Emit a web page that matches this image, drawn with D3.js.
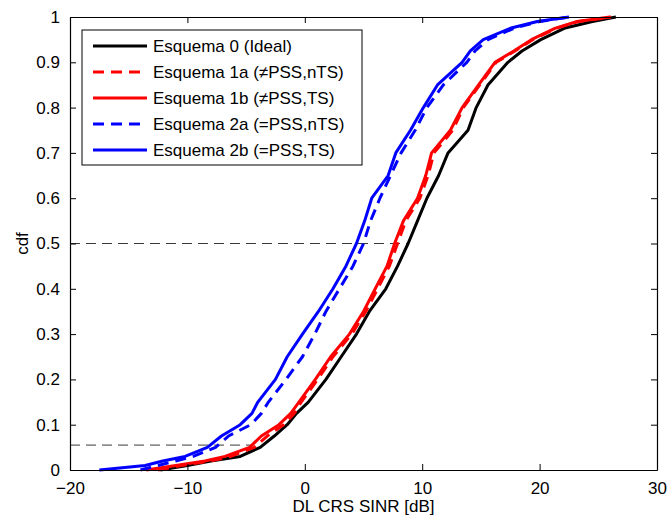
<!DOCTYPE html>
<html>
<head>
<meta charset="utf-8">
<script src="https://cdn.jsdelivr.net/npm/d3@7"></script>
<style>
body { margin: 0; background: #fff; }
text { font-family: "Liberation Sans", Arial, sans-serif; }
</style>
</head>
<body>
<svg width="668" height="517"></svg>
<script>
// cdf levels shared by every curve, x values at each level
var cdfLevels = [0, 0.01, 0.02, 0.03, 0.05, 0.075, 0.1, 0.125, 0.15, 0.2, 0.25, 0.3, 0.35, 0.4, 0.45,
  0.5, 0.55, 0.6, 0.65, 0.7, 0.75, 0.8, 0.85, 0.9, 0.925, 0.95, 0.975, 0.99, 1];

var sinrE0  = [-12.3, -10.0, -8.0, -5.5, -3.8, -2.6, -1.5, -0.7, 0.3, 1.8, 3.1, 4.4, 5.5, 6.9, 7.9,
  8.8, 9.6, 10.4, 11.4, 12.2, 13.9, 14.6, 15.6, 17.3, 18.5, 20.1, 22.1, 24.5, 26.5];
var sinrE1a = [-12.5, -10.5, -8.0, -6.3, -4.3, -3.2, -1.8, -0.9, -0.3, 1.1, 2.4, 4.0, 5.2, 6.2, 7.2,
  7.9, 8.6, 9.8, 10.5, 11.0, 12.6, 13.5, 14.9, 16.3, 17.9, 19.4, 21.4, 23.3, 26.1];
var sinrE1b = [-13.5, -11.0, -8.5, -6.8, -4.7, -3.7, -2.2, -1.2, -0.5, 0.9, 2.2, 3.8, 5.0, 6.0, 7.0,
  7.65, 8.4, 9.6, 10.3, 10.8, 12.4, 13.4, 14.8, 16.2, 17.8, 19.3, 21.3, 23.2, 26.0];
var sinrE2a = [-14.0, -12.5, -11.0, -9.5, -7.6, -6.5, -4.6, -3.7, -3.1, -1.6, -0.2, 0.85, 1.8, 2.95, 4.1,
  5.0, 5.6, 6.4, 7.3, 8.2, 9.4, 10.4, 11.8, 13.8, 14.5, 15.6, 17.8, 20.0, 22.5];
var sinrE2b = [-17.5, -13.6, -12.1, -10.2, -8.3, -7.1, -5.5, -4.5, -4.0, -2.5, -1.5, -0.2, 1.16, 2.4, 3.5,
  4.4, 5.1, 5.7, 7.1, 7.75, 9.0, 10.1, 11.3, 13.4, 14.1, 15.2, 17.5, 19.8, 22.5];

var seriesNames = ["Esquema 0 (Ideal)", "Esquema 1a (\u2260PSS,nTS)", "Esquema 1b (\u2260PSS,TS)",
  "Esquema 2a (=PSS,nTS)", "Esquema 2b (=PSS,TS)"];
var seriesValues = [sinrE0, sinrE1a, sinrE1b, sinrE2a, sinrE2b];
var seriesColors = ["#000000", "#ff0000", "#ff0000", "#0000ff", "#0000ff"];
var seriesDashed = [false, true, false, true, false];

// horizontal dashed guide lines: cdf level and where they stop
var guideCdf = [0.5, 0.055];
var guideEnd = [8.7, -4.5];

var xTicks = [-20, -10, 0, 10, 20, 30];
var yTicks = [0, 0.1, 0.2, 0.3, 0.4, 0.5, 0.6, 0.7, 0.8, 0.9, 1];

var svg = d3.select("svg");
// plot box in pixels (note: "top" is reserved on window, so use m*)
var mLeft = 70, mRight = 657, mTop = 17, mBottom = 470;

var x = d3.scaleLinear().domain([-20, 30]).range([mLeft, mRight]);
var y = d3.scaleLinear().domain([0, 1]).range([mBottom, mTop]);

// guide lines
svg.append("g").selectAll("line")
  .data(guideCdf)
  .enter().append("line")
  .attr("x1", x(-20))
  .attr("x2", function (d, i) { return x(guideEnd[i]); })
  .attr("y1", function (d) { return y(d); })
  .attr("y2", function (d) { return y(d); })
  .attr("stroke", "#222")
  .attr("stroke-width", 0.9)
  .attr("stroke-dasharray", "10,6");

// curves
var line = d3.line()
  .x(function (d) { return x(d[0]); })
  .y(function (d) { return y(d[1]); });

svg.append("g").selectAll("path")
  .data(seriesValues)
  .enter().append("path")
  .attr("d", function (vals) {
    return line(vals.map(function (v, i) { return [v, cdfLevels[i]]; }));
  })
  .attr("fill", "none")
  .attr("stroke", function (d, i) { return seriesColors[i]; })
  .attr("stroke-width", 3)
  .attr("stroke-linejoin", "round")
  .attr("stroke-dasharray", function (d, i) { return seriesDashed[i] ? "11,7" : null; });

// axes, MATLAB style box with inward ticks
var axisG = svg.append("g");
axisG.append("g")
  .attr("transform", "translate(0," + mBottom + ")")
  .call(d3.axisBottom(x).tickValues(xTicks).tickSizeInner(-6).tickSizeOuter(0).tickPadding(12)
    .tickFormat(function (d) { return d < 0 ? "\u2212" + Math.abs(d) : d; }));
axisG.append("g")
  .attr("transform", "translate(0," + mTop + ")")
  .call(d3.axisTop(x).tickValues(xTicks).tickSizeInner(-6).tickSizeOuter(0).tickFormat(""));
axisG.append("g")
  .attr("transform", "translate(" + mLeft + ",0)")
  .call(d3.axisLeft(y).tickValues(yTicks).tickSizeInner(-6).tickSizeOuter(0).tickPadding(10)
    .tickFormat(function (d) { return d === 0 || d === 1 ? d : d.toFixed(1); }));
axisG.append("g")
  .attr("transform", "translate(" + mRight + ",0)")
  .call(d3.axisRight(y).tickValues(yTicks).tickSizeInner(-6).tickSizeOuter(0).tickFormat(""));

axisG.selectAll(".domain").attr("stroke", "#000").attr("stroke-width", 1.2);
axisG.selectAll(".tick line").attr("stroke", "#000");
axisG.selectAll(".tick text").attr("font-size", 17).attr("fill", "#000")
  .style("font-family", "'Liberation Sans', Arial, sans-serif");

// axis labels
svg.append("text")
  .attr("x", (mLeft + mRight) / 2)
  .attr("y", 512)
  .attr("text-anchor", "middle")
  .attr("font-size", 17)
  .text("DL CRS SINR [dB]");
svg.append("text")
  .attr("transform", "translate(28," + ((mTop + mBottom) / 2) + ") rotate(-90)")
  .attr("text-anchor", "middle")
  .attr("font-size", 17)
  .text("cdf");

// legend
var legend = svg.append("g");
legend.append("rect")
  .attr("x", 82).attr("y", 30)
  .attr("width", 280).attr("height", 135)
  .attr("fill", "#fff")
  .attr("stroke", "#000")
  .attr("stroke-width", 1);

var item = legend.selectAll("g.item")
  .data(seriesNames)
  .enter().append("g")
  .attr("class", "item")
  .attr("transform", function (d, i) { return "translate(0," + (46 + i * 26) + ")"; });

item.append("line")
  .attr("x1", 93).attr("x2", 147)
  .attr("stroke", function (d, i) { return seriesColors[i]; })
  .attr("stroke-width", 3)
  .attr("stroke-dasharray", function (d, i) { return seriesDashed[i] ? "11,7" : null; });

item.append("text")
  .attr("x", 153)
  .attr("dy", "0.35em")
  .attr("font-size", 17)
  .text(function (d) { return d; });
</script>
</body>
</html>
